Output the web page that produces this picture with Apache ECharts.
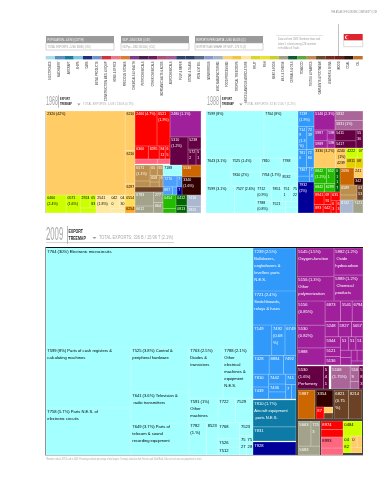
<!DOCTYPE html>
<html>
<head>
<meta charset="utf-8">
<style>
  html, body { margin: 0; background: #fff; }
  #main { width: 387px; height: 480px; }
</style>
</head>
<body>
<div id="main"></div>
<script src="https://cdn.jsdelivr.net/npm/echarts@6/dist/echarts.min.js"></script>
<script>
const FONT = '"Liberation Sans", sans-serif';

// sector legend strip
const sectorNames = ['ELECTRONICS', 'MACHINERY', 'AIRCRAFT', 'SHIPS', 'CARS', 'METAL PRODUCTS', 'CONSTRUCTION MATL & EQUIP', 'HOME & OFFICE', 'PRECIOUS STONES', 'CHEMICALS & HEALTH', 'PETROCHEMICALS', 'OTHER CHEMICALS', 'INORGANIC SALTS & ACIDS', 'AGROCHEMICALS', 'PULP & PAPER', 'STONE & GLASS', 'IRON & STEEL', 'NONFERROUS', 'MISC MANUFACTURING', 'FOOD PROCESSING', 'TROPICAL TREECROPS', 'MISCELLANEOUS AGRICULTURE', 'FRUIT', 'FISH', 'MEAT & EGGS', 'MILK & CHEESE', 'CEREALS & OILS', 'TOBACCO', 'TEXTILE & FABRICS', 'GARMENTS & FOOTWEAR', 'LEATHER & SKINS', 'WOOD', 'COAL', 'OIL'];
const sectorColors = ['#A8DCE9', '#5A90C2', '#1B7AA1', '#7FC8DC', '#1F2E7C', '#6F94CA', '#D5303A', '#E87A8C', '#E07B2C', '#7E3B8E', '#4A1D50', '#6B1B5C', '#AF5071', '#A05C99', '#2E3F72', '#2B4068', '#5A6A88', '#8C97CC', '#9DB5C8', '#F9D27B', '#F2C543', '#FDE6A1', '#D7D630', '#F0E02B', '#C9D02B', '#9FA085', '#0F5A37', '#5BAA3C', '#C08A51', '#6A4A2B', '#7A2A1F', '#6E2419', '#2E1411', '#C0702B'];
const sectorTicks = sectorColors.map(() => 1);

// 1968 products: [label, share of exports]
const rubber68 = [['2320 (42%)', 42.5], ['6210', 2.5], ['6210', 2.1], ['6297', 0.7]];
const oils68 = [['0460 (2.4%)', 2.3], ['0571 (1.6%)', 1.6], ['0535', 0.5], ['0583', 0.5], ['2924', 0.8]];
const tropical68 = [['2541 (1.8%)', 1.6], ['0420', 0.8], ['0430', 0.5], ['2631', 0.4]];
const spices68 = [['0554', 0.7]];
const spicesLow68 = [['6254', 0.4]];
const metals68 = [['2460 (4.7%)', 4.9], ['6521 (1.9%)', 2.9], ['6300', 1.1], ['6285', 0.9], ['8411', 0.5], ['6513', 0.4]];
const home68 = [['6592', 0.7], ['6282', 0.4]];
const purple68 = [['2480 (1.1%)', 5.1]];
const plum68 = [['5310 (1.2%)', 3.2]];
const plumRight68 = [['5238', 1.0], ['5722', 0.8], ['5123', 0.5]];
const tan68 = [['6571 (1.1%)', 1.6], ['6589', 0.6], ['6547', 0.5], ['6584', 0.4], ['6517', 0.4], ['6531', 0.3], ['6545', 0.3]];
const brown68 = [['7121', 0.9]];
const cyan68 = [['7188 (1.1%)', 1.3]];
const blue68 = [['7270', 0.8], ['8973', 0.4], ['7430', 0.2]];
const navy68 = [['7851', 0.3]];
const orange68 = [['5530', 1.4]];
const maroon68 = [['3340 (1.6%)', 2.2]];
const grey68 = [['6783', 1.6], ['6612', 0.8], ['6642', 0.6], ['2771', 0.6]];
const green68 = [['0454', 1.2], ['0342', 0.4]];
const darkGreen68 = [['0412', 0.7], ['0813', 0.5]];
const steel68 = [['7416', 0.7], ['2820', 0.4]];

// 1988 products
const electronicsTop88 = [['7599 (8%)', 17], ['7764 (8%)', 10]];
const electronicsMid88 = [['7643 (3.1%)', 2.4], ['7810 (2%)', 1.4], ['7764 (1.7%)', 1.0], ['7788', 0.9], ['7525 (1.4%)', 1.4], ['7810', 1.0], ['8532', 0.7]];
const electronicsLow88 = [['7599 (3.1%)', 3.2], ['7527 (2.6%)', 2.4], ['7712 (0.9%)', 0.9], ['7788 (0.8%)', 0.8], ['7851', 0.7], ['7511', 0.6], ['7521', 0.4], ['7522', 0.4], ['7526', 0.3], ['7523', 0.3], ['7130', 0.3]];
const machinery88 = [['7139 (1.9%)', 1.5], ['7149 (1.3%)', 1.2], ['7239', 1.0], ['7810', 0.9], ['7284', 0.8], ['7367', 0.6], ['7442', 0.4], ['7491', 0.4]];
const ships88 = [['7932 (2%)', 2.8]];
const oilsA88 = [['5146 (2.3%)', 2.4]];
const oilsB88 = [['5831 (1%)', 1.6], ['5832', 1.6]];
const oilsC88 = [['5987', 0.9], ['5989', 0.6], ['5989', 0.5], ['5988', 0.4]];
const plum88 = [['5411', 0.9], ['5417', 0.6], ['5530', 0.5]];
const food88 = [['3330 (3.2%)', 4.2], ['4240 (1%)', 1.2], ['4239', 0.8]];
const limes88 = [['4222', 1.0], ['0721', 0.5]];
const limesLow88 = [['0811', 0.4], ['0814', 0.3]];
const green88 = [['6842 (1.2%)', 2.2], ['6521', 1.5], ['6299', 1.0], ['6842', 1.0]];
const darkGreen88 = [['0117', 0.7]];
const orange88 = [['2690', 1.4]];
const pale88 = [['2412', 0.4]];
const maroon88 = [['3420', 0.4]];
const tan88 = [['6589', 1.0], ['6911', 0.5]];
const brown88 = [['6353', 0.3]];
const red88 = [['8941 (1.9%)', 1.3], ['6991', 0.9], ['8931', 0.8], ['6428', 0.7]];
const redB88 = [['6359', 0.5], ['6353', 0.4], ['6351', 0.3]];
const steel88 = [['8742', 1.3]];
const sand88 = [['7121', 0.9]];

// 2009 products
const electronicsMain09 = [['7764 (30%) Electronic microcircuits', 31]];
const cashRegisters09 = [['7599 (8%) Parts of cash registers & calculating machines', 8]];
const circuitParts09 = [['7758 (5.7%) Parts N.E.S. of electronic circuits', 6]];
const hardware09 = [['7525 (3.8%) Control & peripheral hardware', 3.9]];
const transmitters09 = [['7641 (3.6%) Television & radio transmitters', 2.7]];
const telecomParts09 = [['7649 (3.7%) Parts of telecom & sound recording equipment', 2.8]];
const electronicsHigh09 = [['7763 (2.5%) Diodes & transistors', 2.2]];
const electronicsOther09 = [['7788 (2.1%) Other electrical machines & equipment N.E.S.', 2.2]];
const otherMachines09 = [['7591 (1%) Other machines N.E.S.', 1.0]];
const electronicsPair09 = [['7782 (1.%)', 0.9], ['8523', 0.6]];
const electronicsRest09 = [['7529', 0.5], ['7722', 0.5], ['7768', 0.4], ['7523', 0.2], ['7512', 0.2], ['7526', 0.2], ['7528', 0.15], ['7527', 0.15]];
const machineryTop09 = [['7239 (2.5%) Bulldozers, angledozers & levellers parts N.E.S.', 2.9]];
const machineryNext09 = [['7721 (2.4%) Switchboards, relays & fuses', 2.4]];
const machineryLow09 = [['7149', 0.85], ['7492 (0.68%)', 0.6], ['6749', 0.5], ['7428', 0.45], ['8894', 0.4], ['7492', 0.35], ['7810', 0.3], ['7439', 0.28], ['7442', 0.25], ['7436', 0.2], ['7431', 0.18], ['7415', 0.16], ['7441', 0.12], ['7416', 0.1]];
const aircraft09 = [['7810 (1.7%) Aircraft equipment parts N.E.S.', 1.9], ['7831', 1.0]];
const ships09 = [['7928', 0.9]];
const chemTop09 = [['5145 (1.5%) Oxygen-function amino-compounds', 1.6], ['5156 (1.3%) Other polymerization & copolymerization products', 1.4], ['5982 (1.2%) Oxide hydrocarbons', 1.2], ['5989 (1.2%) Chemical products', 1.15]];
const chemLow09 = [['5530 (0.82%)', 0.8], ['5156 (0.85%)', 0.85], ['5988', 0.6], ['6873', 0.4], ['5541', 0.3], ['6794', 0.28], ['5927', 0.25], ['5248', 0.25], ['5057', 0.22], ['5344', 0.2], ['5121', 0.18], ['5136', 0.16], ['5148', 0.14], ['5112', 0.12], ['5122', 0.12], ['5146', 0.1], ['5147', 0.1], ['5149', 0.08], ['5111', 0.08], ['5123', 0.06]];
const perfume09 = [['5530 (1.6%) Perfumery & cosmetics', 0.85], ['5417', 0.18]];
const mauve09 = [['5168 (1.75%)', 0.65], ['5169', 0.2], ['5161', 0.1]];
const plumEnd09 = [['5838', 0.1]];
const orange09 = [['5987', 0.77]];
const maroon09 = [['3354', 0.5]];
const redSmall09 = [['8731', 0.14]];
const paleSmall09 = [['8741', 0.1]];
const brownSmall09 = [['6353', 0.1]];
const brown09 = [['6821 (0.75%)', 0.6], ['8214', 0.55]];
const grey09 = [['5663', 0.5], ['7253', 0.35], ['5683', 0.3]];
const redBlock09 = [['8942', 0.25], ['8974', 0.28]];
const pinkBlock09 = [['8993', 0.35], ['8991', 0.22]];
const lime09 = [['0484', 0.45]];
const limeLow09 = [['0482', 0.3]];
const goldLow09 = [['0813', 0.25], ['0989', 0.2], ['0731', 0.2]];

// sector colours used in the treemaps
const CYAN = '#A4FFFF', BLUE = '#3199FA', TEAL = '#0E7BA6', NAVY = '#000099';
const PURPLE = '#A0209B', PLUM = '#660044', MAUVE = '#AA6699';
const SAND = '#FFCC66', LIME = '#CCFF00', PALE = '#FFE8A0';
const RED = '#FF0000', PINK = '#FF6680', TAN = '#BC8F4F', BROWN = '#6B4226';
const ORANGE = '#CC6600', MAROON = '#330000', GREY = '#A3A38C';
const GREEN = '#22BB00', DKGREEN = '#006600', STEEL = '#AAB8D0';

// x0, y0, x1, y1 of each sector block on the page
const blocks = [
  // 1968
  [46, 111, 135, 195, SAND, rubber68], [46, 195, 96, 213, LIME, oils68], [96, 195, 125, 213, PALE, tropical68],
  [125, 195, 135, 206, '#FFDD55', spices68], [125, 206, 135, 213, '#FFAA22', spicesLow68],
  [135, 111, 170, 159, RED, metals68, '#fff'], [135, 159, 170, 164, PINK, home68],
  [170, 111, 201, 137, PURPLE, purple68, '#fff'], [170, 137, 188, 165, PLUM, plum68, '#fff'], [188, 137, 201, 165, PLUM, plumRight68, '#fff'],
  [135, 165, 163, 187, TAN, tan68, '#fff'], [135, 187, 163, 192, BROWN, brown68, '#fff'],
  [163, 165, 182, 176, CYAN, cyan68], [163, 176, 177, 195, '#4D9FFF', blue68, '#fff'], [177, 187, 182, 195, NAVY, navy68, '#fff'], [177, 176, 182, 187, '#4D9FFF', navy68, '#fff'],
  [182, 165, 201, 177, ORANGE, orange68, '#fff'], [182, 177, 201, 195, MAROON, maroon68, '#fff'],
  [135, 192, 163, 213, GREY, grey68, '#fff'], [163, 195, 176, 213, GREEN, green68, '#fff'], [176, 195, 187, 213, DKGREEN, darkGreen68, '#fff'], [187, 195, 201, 213, STEEL, steel68, '#fff'],
  // 1988
  [206, 111, 298, 158, CYAN, electronicsTop88], [206, 158, 298, 186, CYAN, electronicsMid88], [206, 186, 298, 213, CYAN, electronicsLow88],
  [298, 111, 314, 182, BLUE, machinery88, '#fff'], [298, 182, 314, 213, NAVY, ships88, '#fff'],
  [314, 111, 335, 130, PURPLE, oilsA88, '#fff'], [335, 111, 363, 130, MAUVE, oilsB88, '#fff'], [314, 130, 335, 148, PURPLE, oilsC88, '#fff'], [335, 130, 363, 148, PLUM, plum88, '#fff'],
  [314, 148, 346, 168, SAND, food88], [346, 148, 363, 158, LIME, limes88], [346, 158, 363, 168, '#E6D000', limesLow88],
  [314, 168, 335, 192, GREEN, green88, '#fff'], [335, 168, 340, 192, DKGREEN, darkGreen88, '#fff'],
  [340, 168, 354, 185, ORANGE, orange88, '#fff'], [354, 168, 363, 178, SAND, pale88], [354, 178, 363, 185, MAROON, maroon88, '#fff'],
  [340, 185, 357, 200, TAN, tan88, '#fff'], [357, 185, 363, 200, BROWN, brown88, '#fff'],
  [314, 192, 331, 213, RED, red88, '#fff'], [331, 192, 340, 213, RED, redB88, '#fff'],
  [340, 200, 353, 213, STEEL, steel88, '#fff'], [353, 200, 363, 213, GREY, sand88, '#fff'],
  // 2009
  [46, 248, 253, 347, CYAN, electronicsMain09], [46, 347, 131, 408, CYAN, cashRegisters09], [46, 408, 131, 455, CYAN, circuitParts09],
  [131, 347, 189, 392, CYAN, hardware09], [131, 392, 189, 423, CYAN, transmitters09], [131, 423, 189, 455, CYAN, telecomParts09],
  [189, 347, 223, 398, CYAN, electronicsHigh09], [223, 347, 253, 398, CYAN, electronicsOther09],
  [189, 398, 218, 422, CYAN, otherMachines09], [189, 422, 218, 455, CYAN, electronicsPair09], [218, 398, 253, 455, CYAN, electronicsRest09],
  [253, 248, 296, 291, BLUE, machineryTop09, '#fff'], [253, 291, 296, 325, BLUE, machineryNext09, '#fff'], [253, 325, 296, 399, BLUE, machineryLow09, '#fff'],
  [253, 400, 296, 441, TEAL, aircraft09, '#fff'], [253, 442, 296, 455, NAVY, ships09, '#fff'],
  [297, 248, 363, 301, PURPLE, chemTop09, '#fff'], [297, 301, 363, 365, PURPLE, chemLow09, '#fff'],
  [297, 366, 329, 389, PLUM, perfume09, '#fff'], [331, 366, 359, 389, MAUVE, mauve09, '#fff'], [359, 366, 363, 389, PLUM, plumEnd09, '#fff'],
  [298, 390, 315, 419, ORANGE, orange09, '#fff'], [316, 390, 333, 407, MAROON, maroon09, '#fff'],
  [316, 407, 324, 419, RED, redSmall09, '#fff'], [324, 407, 333, 413, SAND, paleSmall09], [324, 413, 333, 419, BROWN, brownSmall09, '#fff'],
  [334, 390, 362, 419, BROWN, brown09, '#fff'],
  [298, 421, 320, 455, GREY, grey09, '#fff'], [321, 421, 343, 437, RED, redBlock09, '#fff'], [321, 437, 343, 455, PINK, pinkBlock09],
  [343, 421, 362, 436, LIME, lime09], [343, 436, 351, 453, LIME, limeLow09], [351, 436, 362, 453, SAND, goldLow09]
];

// pale tint for the thin lines between leaves
function tint(hex) {
  const n = parseInt(hex.slice(1), 16);
  const mix = (c) => Math.round(c + (255 - c) * 0.4);
  return `rgb(${mix((n >> 16) & 255)},${mix((n >> 8) & 255)},${mix(n & 255)})`;
}

const treeSeries = blocks.map(([x0, y0, x1, y1, color, leaves, labelColor]) => {
  const pxPerValue = (x1 - x0) * (y1 - y0) / leaves.reduce((sum, leaf) => sum + leaf[1], 0);
  const upper = y0 < 220;
  return {
    type: 'treemap',
    left: x0,
    top: y0,
    width: x1 - x0,
    height: y1 - y0,
    roam: false,
    nodeClick: false,
    silent: true,
    breadcrumb: { show: false },
    visibleMin: 0,
    data: leaves.map(([name, value]) => ({
      name,
      value,
      itemStyle: { color, borderColor: tint(color), borderWidth: 0.35 },
      // tiny cells carry no code in the reference
      label: { show: value * pxPerValue >= (upper ? 40 : 70) }
    })),
    levels: [{ itemStyle: { gapWidth: 0, borderWidth: 0 } }],
    label: {
      show: true,
      position: 'insideTopLeft',
      formatter: '{b}',
      fontFamily: FONT,
      fontSize: upper ? 3.5 : 4.1,
      lineHeight: upper ? 5.5 : 7,
      padding: [0, 0, 0, 1],
      color: labelColor || '#000',
      overflow: 'break'
    }
  };
});

// page text is condensed in the reference, so squeeze it sideways
function label(x, y, text, size, color, extra, squeeze) {
  return {
    type: 'text',
    x,
    y,
    scaleX: squeeze || 0.58,
    style: Object.assign({ text, fontFamily: FONT, fontSize: size, fill: color, textVerticalAlign: 'middle' }, extra)
  };
}
function box(x, y, width, height, fill, stroke) {
  return {
    type: 'rect',
    shape: { x, y, width, height },
    style: { fill: fill || 'transparent', stroke: stroke || null, lineWidth: stroke ? 0.5 : 0 }
  };
}
function heading(x, year, yearSize, yearWidth, small, y, total, tx, ux) {
  const textX = x + yearWidth + 1.5;
  const lines = [
    label(x, y, year, yearSize, '#a6a6a6', {}, 0.43),
    box(x + yearWidth, y - yearSize / 2, 0.5, yearSize, '#777'),
    label(textX, y - small * 0.6, 'EXPORT', small, '#222', { fontWeight: 'bold' }, 0.68),
    label(textX, y + small * 0.6, 'TREEMAP', small, '#222', { fontWeight: 'bold' }, 0.68),
    { type: 'polygon', shape: { points: [[tx - 4 - small / 2, y + 2], [tx - 2.5, y + 2], [tx - 3.2 - small / 4, y + 4]] }, style: { fill: '#999' } },
    label(tx, y + 2, total, small + 0.6, '#aaa', {}, 0.68)
  ];
  if (ux) lines.push(box(x, y + 7, ux - x, 0.6, '#aaa'));
  return lines;
}

const statBoxes = [
  [46, 'POPULATION - 4.8 M | (117TH)', 'TOTAL EXPORTS - USD 336B | (#15)'],
  [121, 'GDP - USD 192B | (#47)', 'GDPpc - USD 36,500 | (#12)'],
  [195, 'EXPORTS PER CAPITA - USD 68,415 | (1)', 'EXPORTS AS SHARE OF GDP - 175 % (1)']
];

const graphics = [
  label(377, 12, 'THE ATLAS OF ECONOMIC COMPLEXITY | 269', 3.6, '#888', { textAlign: 'right' }),
  box(338.4, 24, 0.6, 32, '#999'),
  box(343.7, 34, 19, 6.5, '#E0242F'),
  box(343.7, 40.5, 19, 6.2, '#fff', '#bbb'),
  { type: 'circle', shape: { cx: 347, cy: 37.2, r: 2 }, style: { fill: '#fff' } },
  { type: 'circle', shape: { cx: 347.8, cy: 37.2, r: 1.8 }, style: { fill: '#E0242F' } },
  box(276, 35, 47, 0.4, '#ccc'),
  label(278, 39, 'Data are from 2009. Numbers show rank', 3.6, '#999', {}, 0.65),
  label(278, 43.5, 'where 1 is best among 128 countries', 3.6, '#999', {}, 0.65),
  label(278, 48, 'in the Atlas of Trade.', 3.6, '#999', {}, 0.65),
  // dark rule around the 2009 chart
  box(45.5, 247, 317.5, 1, '#111'),
  box(45.2, 247, 1, 208.5, '#777'),
  box(296, 248, 1, 207, '#444'),
  box(297, 389, 66, 66, '#444'),
  box(46, 455, 317, 0.6, '#888'),
  box(45.5, 111, 156, 0.6, '#B7A36A'),
  box(45.5, 111, 0.6, 102, '#B7A36A'),
  label(46, 459.5, '*Numbers indicate SITC4 code in 2009. Percentages indicate percentage of total exports. Treemaps show data from Feenstra and World Bank. Values of each area are proportional to share.', 3, '#aaa', {}, 0.62),
  ...heading(46, '1968', 12.5, 12.5, 3.6, 101.5, 'TOTAL EXPORTS: 1.6 B / 230 B (0.7%)', 83),
  ...heading(207, '1988', 12.5, 13.5, 3.6, 101.5, 'TOTAL EXPORTS: 32 B / 2.56 T (1.2%)', 245),
  ...heading(46, '2009', 18, 21, 5.2, 235, 'TOTAL EXPORTS: 336 B / 15.96 T (2.1%)', 99, 174)
];
statBoxes.forEach(([x, top, bottom]) => {
  graphics.push(box(x, 36, 68, 7, '#9a9a9a'));
  graphics.push(label(x + 1.5, 39.5, top, 4.4, '#fff'));
  graphics.push(box(x, 43, 68, 7, '#fff', '#aaa'));
  graphics.push(label(x + 1.5, 46.5, bottom, 4.4, '#999'));
});

const chart = echarts.init(document.getElementById('main'));
chart.setOption({
  animation: false,
  graphic: { elements: graphics },
  grid: { left: 45.7, right: 24.3, top: 56, height: 3.4 },
  xAxis: {
    type: 'category',
    data: sectorNames,
    axisLine: { show: false },
    axisTick: { show: false },
    axisLabel: { interval: 0, rotate: 90, fontFamily: FONT, fontSize: 2.6, color: '#333', margin: 2 }
  },
  yAxis: { type: 'value', min: 0, max: 1, show: false },
  series: [
    {
      type: 'bar',
      barWidth: '100%',
      silent: true,
      data: sectorTicks.map((v, i) => ({ value: v, itemStyle: { color: sectorColors[i] } }))
    },
    ...treeSeries
  ]
});
window.addEventListener('resize', () => chart.resize());
</script>
</body>
</html>
